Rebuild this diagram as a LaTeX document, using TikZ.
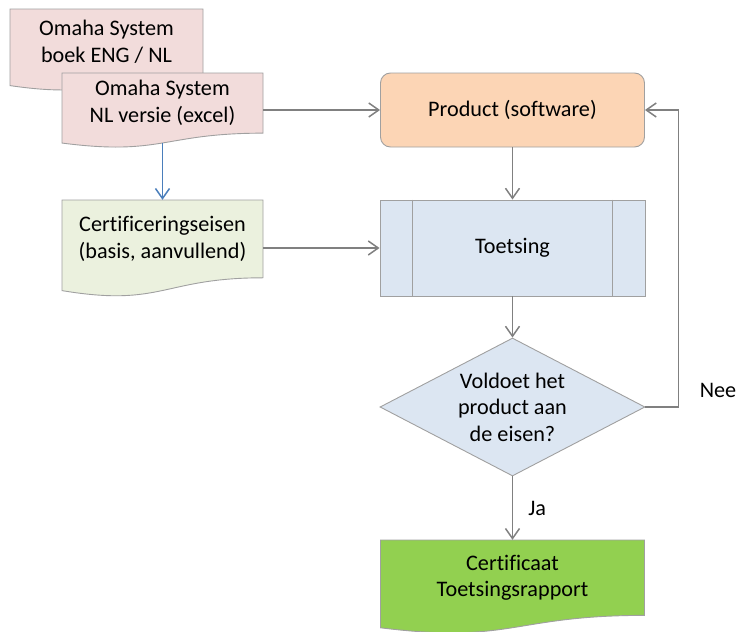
\documentclass[tikz,border=0pt]{standalone}
\usepackage{fontspec}
\setmainfont[Ligatures=NoCommon]{Carlito}
\usetikzlibrary{shapes.geometric,arrows.meta}

\definecolor{roze}{HTML}{F2DCDB}
\definecolor{lichtgroen}{HTML}{EBF1DE}
\definecolor{oranje}{HTML}{FCD5B5}
\definecolor{lichtblauw}{HTML}{DCE6F2}
\definecolor{groen}{HTML}{92D050}
\definecolor{rand}{HTML}{A0A0A0}
\definecolor{lijngrijs}{HTML}{808080}
\definecolor{pijlblauw}{HTML}{4A7EBB}

% document shape: name, x, y, width, height, fill, text
\newcommand{\docvorm}[7]{%
  \draw[vorm, fill=#6] (#2,#3) -- (#2+#4,#3) -- (#2+#4,#3+0.802*#5)
    .. controls (#2+0.5*#4,#3+0.802*#5) and (#2+0.5*#4,#3+1.1075*#5) .. (#2,#3+0.934*#5) -- cycle;
  \node[tekst, minimum width=#4pt, minimum height=0.8*#5pt] (#1) at (#2+0.5*#4,#3+0.4*#5) {#7};
  \coordinate (#1-onder) at (#2+0.5*#4,#3+0.934*#5);
}

\begin{document}
\begin{tikzpicture}[x=1pt, y=-1pt,
		every node/.style={font=\fontsize{22.2}{26.5}\selectfont},
		vorm/.style={draw=rand, line width=0.9pt},
		tekst/.style={align=center, inner sep=0pt},
		pijl/.style={draw=lijngrijs, line width=1.5pt, -{Straight Barb[length=10pt,width=14pt]}},
		lbl/.style={inner sep=0pt}]
		\useasboundingbox (0,0) rectangle (737,632);

		% Bronnen
		\docvorm{boek}{10}{9}{193}{82}{roze}{Omaha System\\boek ENG / NL}
		\docvorm{nlversie}{62}{73}{201}{75}{roze}{Omaha System\\NL versie (excel)}
		\docvorm{eisen}{62}{200}{201}{97}{lichtgroen}{Certificeringseisen\\(basis, aanvullend)}

		% Proces
		\node[vorm, fill=oranje, rectangle, rounded corners=10pt, minimum width=264pt, minimum height=74pt] (product) at (512.5,110) {Product (software)};
		\node[vorm, fill=lichtblauw, rectangle, minimum width=265pt, minimum height=96pt] (toets) at (512.5,248) {Toetsing};
		\draw[vorm] ([xshift=33pt]toets.north west) -- ([xshift=33pt]toets.south west);
		\draw[vorm] ([xshift=-33pt]toets.north east) -- ([xshift=-33pt]toets.south east);
		\node[vorm, fill=lichtblauw, diamond, aspect=1.92, minimum width=265pt, minimum height=138pt, inner sep=0pt, align=center] (keuze) at (512.5,407) {Voldoet het\\product aan\\de eisen?};

		% Resultaat
		\docvorm{cert}{380.5}{540}{264}{94}{groen}{Certificaat\\Toetsingsrapport}

		% Pijlen
		\draw[pijl, draw=pijlblauw] (nlversie-onder) -- (eisen.north);
		\draw[pijl] (nlversie.east |- product.west) -- (product.west);
		\draw[pijl] (eisen.east |- toets.west) -- (toets.west);
		\draw[pijl] (product) -- (toets);
		\draw[pijl] (toets) -- (keuze);
		\draw[pijl] (keuze) -- node[lbl, right=15pt] (ja) {Ja} (cert);
		\draw[pijl] (keuze.east) -- ++(33,0) |- (product.east);
		\node[lbl] (nee) at (718,390) {Nee};
	\end{tikzpicture}
\end{document}
